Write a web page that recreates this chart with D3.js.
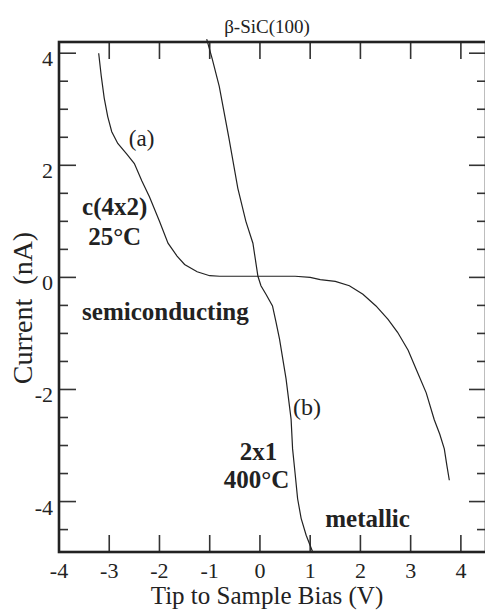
<!DOCTYPE html>
<html>
<head>
<meta charset="utf-8">
<script src="https://cdn.jsdelivr.net/npm/d3@7"></script>
<style>
  body { margin: 0; background: #fff; }
  svg { display: block; font-family: "Liberation Serif", "Times New Roman", serif; }
</style>
</head>
<body>
<svg id="chart" width="485" height="612"></svg>
<script>
// I-V curves: [bias (V), current (nA)]
const curveA = [
  [-3.21, 4.0], [-3.16, 3.6], [-3.10, 3.2], [-3.03, 2.87], [-2.95, 2.6],
  [-2.83, 2.39], [-2.65, 2.2], [-2.50, 2.03], [-2.35, 1.72], [-2.20, 1.44],
  [-2.0, 1.0], [-1.83, 0.61], [-1.65, 0.38], [-1.50, 0.23], [-1.25, 0.1],
  [-1.0, 0.03], [-0.8, 0.02], [0.7, 0.02], [1.0, 0.0], [1.2, -0.04],
  [1.5, -0.07], [1.78, -0.15], [2.05, -0.3], [2.31, -0.51], [2.55, -0.75],
  [2.74, -0.98], [2.95, -1.3], [3.11, -1.64], [3.31, -2.06], [3.47, -2.54],
  [3.58, -2.8], [3.67, -3.06], [3.72, -3.35], [3.77, -3.62]
];
const curveB = [
  [-1.06, 4.25], [-0.95, 3.9], [-0.81, 3.41], [-0.62, 2.5], [-0.44, 1.59],
  [-0.28, 1.0], [-0.14, 0.61], [-0.04, 0.02], [0.02, -0.15], [0.12, -0.3],
  [0.25, -0.51], [0.32, -0.8], [0.39, -1.1], [0.52, -1.81], [0.62, -2.53],
  [0.65, -3.06], [0.70, -3.5], [0.75, -3.95], [0.82, -4.3], [0.92, -4.6],
  [1.05, -4.9]
];
const xTicks = [-4, -3, -2, -1, 0, 1, 2, 3, 4];
const yMajor = [-4, -2, 0, 2, 4];
const yMinor = d3.range(-4.5, 4.01, 0.5);

const labels = [
  { text: "(a)", x: -2.61, y: 2.34, bold: false, size: 23 },
  { text: "c(4x2)", x: -3.54, y: 1.11, bold: true, size: 25 },
  { text: "25°C", x: -3.42, y: 0.58, bold: true, size: 25 },
  { text: "semiconducting", x: -3.54, y: -0.76, bold: true, size: 25 },
  { text: "(b)", x: 0.66, y: -2.46, bold: false, size: 24 },
  { text: "2x1", x: -0.40, y: -3.26, bold: true, size: 25 },
  { text: "400°C", x: -0.72, y: -3.76, bold: true, size: 25 },
  { text: "metallic", x: 1.30, y: -4.46, bold: true, size: 25 }
];

const svg = d3.select("#chart");
const plotL = 59, plotR = 486, plotT = 42, plotB = 552;

const x = d3.scaleLinear().domain([-4, 4.5]).range([plotL, plotR]);
const y = d3.scaleLinear().domain([-4.9, 4.2]).range([plotB, plotT]);

// ticks (drawn inward on all four sides)
const tickG = svg.append("g").attr("stroke", "#333").attr("stroke-width", 1.6);
xTicks.forEach(t => {
  tickG.append("line").attr("x1", x(t)).attr("x2", x(t)).attr("y1", plotB).attr("y2", plotB - 17);
  tickG.append("line").attr("x1", x(t)).attr("x2", x(t)).attr("y1", plotT).attr("y2", plotT + 17);
});
yMinor.forEach(t => {
  const len = yMajor.includes(t) ? 17 : 9;
  tickG.append("line").attr("x1", plotL).attr("x2", plotL + len).attr("y1", y(t)).attr("y2", y(t));
  tickG.append("line").attr("x1", plotR).attr("x2", plotR - len).attr("y1", y(t)).attr("y2", y(t));
});

// frame
svg.append("rect")
  .attr("x", plotL).attr("y", plotT)
  .attr("width", plotR - plotL).attr("height", plotB - plotT)
  .attr("fill", "none").attr("stroke", "#222").attr("stroke-width", 2.6);

// tick labels
svg.append("g").selectAll("text").data(xTicks).join("text")
  .attr("x", d => x(d)).attr("y", 578)
  .attr("text-anchor", "middle").attr("font-size", 22).attr("fill", "#222")
  .text(d => d);
svg.append("g").selectAll("text").data(yMajor).join("text")
  .attr("x", 53).attr("y", d => y(d) + 13)
  .attr("text-anchor", "end").attr("font-size", 22).attr("fill", "#222")
  .text(d => d);

// curves
const line = d3.line().x(d => x(d[0])).y(d => y(d[1]));
[curveA, curveB].forEach(c => {
  svg.append("path").datum(c)
    .attr("d", line)
    .attr("fill", "none").attr("stroke", "#222").attr("stroke-width", 1.2);
});

// annotations
svg.append("g").selectAll("text").data(labels).join("text")
  .attr("x", d => x(d.x)).attr("y", d => y(d.y))
  .attr("font-size", d => d.size)
  .attr("font-weight", d => d.bold ? "bold" : "normal")
  .attr("fill", "#222")
  .text(d => d.text);

// titles
svg.append("text")
  .attr("x", 267).attr("y", 33)
  .attr("text-anchor", "middle").attr("font-size", 19).attr("fill", "#222")
  .text("β-SiC(100)");
svg.append("text")
  .attr("x", 267).attr("y", 604)
  .attr("text-anchor", "middle").attr("font-size", 25).attr("fill", "#222")
  .text("Tip to Sample Bias (V)");
svg.append("text")
  .attr("transform", "translate(32,308) rotate(-90)")
  .attr("text-anchor", "middle").attr("font-size", 28).attr("fill", "#222")
  .style("white-space", "pre")
  .text("Current  (nA)");
</script>
</body>
</html>
